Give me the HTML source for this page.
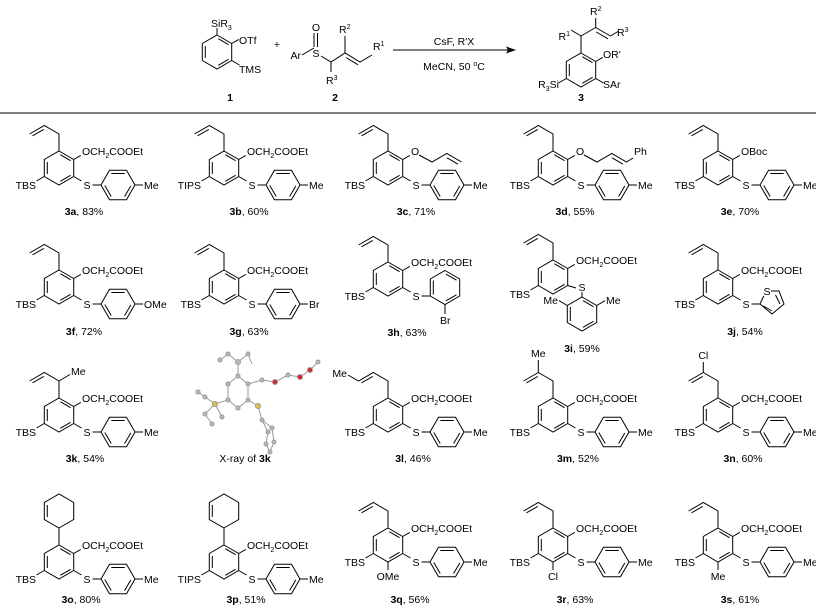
<!DOCTYPE html>
<html><head><meta charset="utf-8"><style>
html,body{margin:0;padding:0;background:#fff;}
svg{display:block;}
text{font-family:"Liberation Sans",Arial,sans-serif;font-size:10.5px;fill:#000;}
</style></head><body>
<svg width="816" height="609" viewBox="0 0 816 609" xmlns="http://www.w3.org/2000/svg">
<defs>
<g id="core" stroke="#000" stroke-width="1" fill="none">
<polygon points="0,-17 14.7,-8.5 14.7,8.5 0,17 -14.7,8.5 -14.7,-8.5"/>
<line x1="-11.7" y1="-6" x2="-11.7" y2="6"/>
<line x1="1.3" y1="-13.3" x2="11.6" y2="-7.3"/>
<line x1="11.6" y1="7.3" x2="1.3" y2="13.3"/>
<line x1="14.7" y1="-8.5" x2="21.8" y2="-12.6"/>
<line x1="14.7" y1="8.5" x2="22.5" y2="13"/>
<line x1="-14.7" y1="8.5" x2="-22.5" y2="13"/>
</g>
<g id="ring0" stroke="#000" stroke-width="1" fill="none">
<polygon points="0,-17 14.7,-8.5 14.7,8.5 0,17 -14.7,8.5 -14.7,-8.5"/>
<line x1="-11.7" y1="-6" x2="-11.7" y2="6"/>
<line x1="1.3" y1="-13.3" x2="11.6" y2="-7.3"/>
<line x1="11.6" y1="7.3" x2="1.3" y2="13.3"/>
</g>
<g id="allyl" stroke="#000" stroke-width="1" fill="none">
<polyline points="0,-17 0,-34 -14.7,-42.5 -29.4,-34"/>
<line x1="-15.2" y1="-38.6" x2="-26.5" y2="-32.2"/>
</g>
<g id="tol" stroke="#000" stroke-width="1" fill="none">
<line x1="33.5" y1="17" x2="42" y2="17"/>
<polygon points="42,17 50.5,2.3 67.5,2.3 76,17 67.5,31.7 50.5,31.7"/>
<line x1="52.3" y1="5.5" x2="65.7" y2="5.5"/>
<line x1="71.8" y1="18" x2="65.6" y2="28.5"/>
<line x1="45.8" y1="17.5" x2="52.2" y2="28.5"/>
<line x1="76" y1="17" x2="84" y2="17"/>
</g>
</defs>

<!-- Top scheme -->
<g stroke="#000" stroke-width="1" fill="none">
<g transform="translate(217,52)"><use href="#ring0"/>
<line x1="0" y1="-17" x2="0" y2="-24"/>
<line x1="14.7" y1="-8.5" x2="21.8" y2="-12.6"/>
<line x1="14.7" y1="8.5" x2="22.5" y2="13"/></g>
<polyline points="302,55 314,48"/>
<line x1="314" y1="33" x2="314" y2="47"/><line x1="317.5" y1="33" x2="317.5" y2="47"/>
<polyline points="321,56 331,62 345,53 360,62 372,55"/>
<line x1="331" y1="62" x2="331" y2="72"/>
<line x1="345" y1="53" x2="345" y2="36"/>
<line x1="346" y1="57.5" x2="358" y2="64.8" />
<line x1="393" y1="50" x2="511" y2="50"/>
<g transform="translate(581,70)"><use href="#ring0"/>
<line x1="0" y1="-17" x2="0" y2="-34"/>
<line x1="0" y1="-34" x2="-10" y2="-40"/>
<line x1="0" y1="-34" x2="14.7" y2="-42.5"/>
<line x1="14.7" y1="-42.5" x2="14.7" y2="-52"/>
<line x1="14.7" y1="-42.5" x2="29.4" y2="-34"/>
<line x1="15.2" y1="-38" x2="27" y2="-31.2"/>
<line x1="29.4" y1="-34" x2="37" y2="-38.5"/>
<line x1="14.7" y1="-8.5" x2="21.8" y2="-12.6"/>
<line x1="14.7" y1="8.5" x2="22.5" y2="13"/>
<line x1="-14.7" y1="8.5" x2="-22.5" y2="13"/></g>
<line x1="0" y1="113" x2="816" y2="113"/>
</g>
<polygon points="516,50 506,46.5 508,50 506,53.5" fill="#000"/>
<text x="211" y="27">SiR<tspan font-size="7" dy="3">3</tspan></text>
<text x="239" y="44">OTf</text>
<text x="239" y="73">TMS</text>
<text x="277" y="48" text-anchor="middle">+</text>
<text x="301" y="59" text-anchor="end">Ar</text>
<text x="316" y="57" text-anchor="middle">S</text>
<text x="316" y="31" text-anchor="middle">O</text>
<text x="326" y="84">R<tspan font-size="7" dy="-4">3</tspan></text>
<text x="339" y="33">R<tspan font-size="7" dy="-4">2</tspan></text>
<text x="373" y="50">R<tspan font-size="7" dy="-4">1</tspan></text>
<text x="230" y="101" text-anchor="middle" font-weight="bold">1</text>
<text x="335" y="101" text-anchor="middle" font-weight="bold">2</text>
<text x="454" y="45" text-anchor="middle">CsF, R'X</text>
<text x="454" y="70" text-anchor="middle">MeCN, 50 <tspan font-size="7" dy="-4">o</tspan><tspan dy="4">C</tspan></text>
<text x="570" y="40" text-anchor="end">R<tspan font-size="7" dy="-4">1</tspan></text>
<text x="590" y="15">R<tspan font-size="7" dy="-4">2</tspan></text>
<text x="617" y="36">R<tspan font-size="7" dy="-4">3</tspan></text>
<text x="603" y="58">OR'</text>
<text x="603" y="88">SAr</text>
<text x="559" y="88" text-anchor="end">R<tspan font-size="7" dy="3">3</tspan><tspan dy="-3">Si</tspan></text>
<text x="581" y="101" text-anchor="middle" font-weight="bold">3</text>

<!-- Row 1 -->
<g transform="translate(59,168)"><use href="#core"/><use href="#allyl"/><use href="#tol"/>
<text x="23" y="-13">OCH<tspan font-size="7" dy="3">2</tspan><tspan dy="-3">COOEt</tspan></text>
<text x="28" y="21" text-anchor="middle">S</text><text x="-23" y="21" text-anchor="end">TBS</text><text x="85" y="21">Me</text>
<text x="25" y="47" text-anchor="middle"><tspan font-weight="bold">3a</tspan>, 83%</text></g>
<g transform="translate(224,168)"><use href="#core"/><use href="#allyl"/><use href="#tol"/>
<text x="23" y="-13">OCH<tspan font-size="7" dy="3">2</tspan><tspan dy="-3">COOEt</tspan></text>
<text x="28" y="21" text-anchor="middle">S</text><text x="-23" y="21" text-anchor="end">TIPS</text><text x="85" y="21">Me</text>
<text x="25" y="47" text-anchor="middle"><tspan font-weight="bold">3b</tspan>, 60%</text></g>
<g transform="translate(388,168)"><use href="#core"/><use href="#allyl"/><use href="#tol"/>
<g stroke="#000" fill="none"><polyline points="31,-13 44,-6 58.8,-14.5 73.5,-6"/><line x1="59" y1="-10.2" x2="70" y2="-3.8"/></g>
<text x="23" y="-13">O</text>
<text x="28" y="21" text-anchor="middle">S</text><text x="-23" y="21" text-anchor="end">TBS</text><text x="85" y="21">Me</text>
<text x="28" y="47" text-anchor="middle"><tspan font-weight="bold">3c</tspan>, 71%</text></g>
<g transform="translate(553,168)"><use href="#core"/><use href="#allyl"/><use href="#tol"/>
<g stroke="#000" fill="none"><polyline points="31,-13 44,-6 58.8,-14.5 73.5,-6 80,-10"/><line x1="59" y1="-10.2" x2="70" y2="-3.8"/></g>
<text x="23" y="-13">O</text><text x="81" y="-13">Ph</text>
<text x="28" y="21" text-anchor="middle">S</text><text x="-23" y="21" text-anchor="end">TBS</text><text x="85" y="21">Me</text>
<text x="22" y="47" text-anchor="middle"><tspan font-weight="bold">3d</tspan>, 55%</text></g>
<g transform="translate(718,168)"><use href="#core"/><use href="#allyl"/><use href="#tol"/>
<text x="23" y="-13">OBoc</text>
<text x="28" y="21" text-anchor="middle">S</text><text x="-23" y="21" text-anchor="end">TBS</text><text x="85" y="21">Me</text>
<text x="22" y="47" text-anchor="middle"><tspan font-weight="bold">3e</tspan>, 70%</text></g>

<!-- Row 2 -->
<g transform="translate(59,287)"><use href="#core"/><use href="#allyl"/><use href="#tol"/>
<text x="23" y="-13">OCH<tspan font-size="7" dy="3">2</tspan><tspan dy="-3">COOEt</tspan></text>
<text x="28" y="21" text-anchor="middle">S</text><text x="-23" y="21" text-anchor="end">TBS</text><text x="85" y="21">OMe</text>
<text x="25" y="48" text-anchor="middle"><tspan font-weight="bold">3f</tspan>, 72%</text></g>
<g transform="translate(224,287)"><use href="#core"/><use href="#allyl"/><use href="#tol"/>
<text x="23" y="-13">OCH<tspan font-size="7" dy="3">2</tspan><tspan dy="-3">COOEt</tspan></text>
<text x="28" y="21" text-anchor="middle">S</text><text x="-23" y="21" text-anchor="end">TBS</text><text x="85" y="21">Br</text>
<text x="25" y="48" text-anchor="middle"><tspan font-weight="bold">3g</tspan>, 63%</text></g>
<g transform="translate(388,279)"><use href="#core"/><use href="#allyl"/>
<g stroke="#000" fill="none"><line x1="33.5" y1="17" x2="42.3" y2="17"/>
<polygon points="57,-8.5 71.7,0 71.7,17 57,25.5 42.3,17 42.3,0"/>
<line x1="45.3" y1="1.5" x2="45.3" y2="15.5"/><line x1="58" y1="-4.8" x2="68.5" y2="1.2"/><line x1="68.5" y1="15.8" x2="58" y2="21.8"/>
<line x1="57" y1="25.5" x2="57" y2="35"/></g>
<text x="23" y="-13">OCH<tspan font-size="7" dy="3">2</tspan><tspan dy="-3">COOEt</tspan></text>
<text x="28" y="21" text-anchor="middle">S</text><text x="-23" y="21" text-anchor="end">TBS</text><text x="52" y="45">Br</text>
<text x="19" y="57" text-anchor="middle"><tspan font-weight="bold">3h</tspan>, 63%</text></g>
<g transform="translate(553,277)"><use href="#ring0"/><use href="#allyl"/>
<g stroke="#000" fill="none">
<line x1="14.7" y1="-8.5" x2="21.8" y2="-12.6"/>
<line x1="14.7" y1="8.5" x2="23" y2="11"/>
<line x1="-14.7" y1="8.5" x2="-22.5" y2="13"/>
<line x1="29" y1="15" x2="29" y2="20"/>
<polygon points="29,20 43.7,28.5 43.7,45.5 29,54 14.3,45.5 14.3,28.5"/>
<line x1="17.3" y1="30" x2="17.3" y2="44"/><line x1="30" y1="23.7" x2="40.5" y2="29.7"/><line x1="40.5" y1="44.3" x2="30" y2="50.3"/>
<line x1="14.3" y1="28.5" x2="6" y2="23.7"/><line x1="43.7" y1="28.5" x2="52" y2="23.7"/></g>
<text x="23" y="-13">OCH<tspan font-size="7" dy="3">2</tspan><tspan dy="-3">COOEt</tspan></text>
<text x="29" y="14" text-anchor="middle">S</text><text x="-23" y="21" text-anchor="end">TBS</text>
<text x="5" y="27" text-anchor="end">Me</text><text x="53" y="27">Me</text></g>
<text x="582" y="352" text-anchor="middle"><tspan font-weight="bold">3i</tspan>, 59%</text>
<g transform="translate(718,287)"><use href="#core"/><use href="#allyl"/>
<g stroke="#000" fill="none"><line x1="33.5" y1="17" x2="42" y2="17"/>
<polygon points="42,17 48,4 61,4 66,17 54,27"/>
<line x1="57.5" y1="8" x2="62" y2="17"/><line x1="45.5" y1="19" x2="54" y2="24"/></g>
<rect x="45" y="-1" width="8" height="10" fill="#fff"/>
<text x="49" y="8" text-anchor="middle">S</text>
<text x="23" y="-13">OCH<tspan font-size="7" dy="3">2</tspan><tspan dy="-3">COOEt</tspan></text>
<text x="28" y="21" text-anchor="middle">S</text><text x="-23" y="21" text-anchor="end">TBS</text>
<text x="27" y="48" text-anchor="middle"><tspan font-weight="bold">3j</tspan>, 54%</text></g>

<!-- Row 3 -->
<g transform="translate(59,415)"><use href="#core"/><use href="#tol"/>
<g stroke="#000" fill="none"><polyline points="0,-17 0,-34 -14.7,-42.5 -29.4,-34"/><line x1="-15.2" y1="-38.6" x2="-26.5" y2="-32.2"/><line x1="0" y1="-34" x2="11" y2="-40.5"/></g>
<text x="12" y="-40">Me</text>
<text x="23" y="-13">OCH<tspan font-size="7" dy="3">2</tspan><tspan dy="-3">COOEt</tspan></text>
<text x="28" y="21" text-anchor="middle">S</text><text x="-23" y="21" text-anchor="end">TBS</text><text x="85" y="21">Me</text>
<text x="26" y="47" text-anchor="middle"><tspan font-weight="bold">3k</tspan>, 54%</text></g>
<g transform="translate(0,-8)">
<g stroke="#999" stroke-width="1" fill="#bbb">
<polyline fill="none" points="228,392 238,384 248,392 248,408 238,416 228,408 228,392"/>
<polyline fill="none" points="238,384 238,370 228,362 220,368"/>
<polyline fill="none" points="238,370 248,362 252,372"/>
<polyline fill="none" points="248,392 262,388 275,390 288,383 300,385 310,378 318,370"/>
<polyline fill="none" points="228,408 215,412 205,405"/>
<polyline fill="none" points="215,412 205,422 212,432"/>
<polyline fill="none" points="215,412 222,425"/>
<polyline fill="none" points="205,405 198,400"/>
<polyline fill="none" points="248,408 258,414 262,428 268,440 266,452 270,460"/>
<polyline fill="none" points="262,428 272,436 274,450 270,460"/>
<circle cx="238" cy="384" r="2"/><circle cx="248" cy="392" r="2"/><circle cx="248" cy="408" r="2"/><circle cx="238" cy="416" r="2"/><circle cx="228" cy="408" r="2"/><circle cx="228" cy="392" r="2"/>
<circle cx="238" cy="370" r="2.5"/><circle cx="228" cy="362" r="2"/><circle cx="220" cy="368" r="2"/><circle cx="248" cy="362" r="2"/>
<circle cx="275" cy="390" r="2.5" fill="#d22"/><circle cx="300" cy="385" r="2.5" fill="#d22"/><circle cx="310" cy="378" r="2.5" fill="#d22"/><circle cx="318" cy="370" r="2"/>
<circle cx="262" cy="388" r="2"/><circle cx="288" cy="383" r="2"/>
<circle cx="215" cy="412" r="2.5" fill="#e0c040"/><circle cx="205" cy="405" r="2"/><circle cx="205" cy="422" r="2"/><circle cx="212" cy="432" r="2"/><circle cx="222" cy="425" r="2"/><circle cx="198" cy="400" r="2"/>
<circle cx="258" cy="414" r="2.5" fill="#e0c040"/><circle cx="262" cy="428" r="2"/><circle cx="268" cy="440" r="2"/><circle cx="272" cy="436" r="2"/><circle cx="274" cy="450" r="2"/><circle cx="266" cy="452" r="2"/><circle cx="270" cy="460" r="2"/>
</g></g>
<text x="245" y="462" text-anchor="middle">X-ray of <tspan font-weight="bold">3k</tspan></text>
<g transform="translate(388,415)"><use href="#core"/><use href="#tol"/>
<g stroke="#000" fill="none"><polyline points="0,-17 0,-34 -14.7,-42.5 -29.4,-34 -40,-40"/><line x1="-15.2" y1="-38.6" x2="-26.5" y2="-32.2"/></g>
<text x="-41" y="-38" text-anchor="end">Me</text>
<text x="23" y="-13">OCH<tspan font-size="7" dy="3">2</tspan><tspan dy="-3">COOEt</tspan></text>
<text x="28" y="21" text-anchor="middle">S</text><text x="-23" y="21" text-anchor="end">TBS</text><text x="85" y="21">Me</text>
<text x="25" y="47" text-anchor="middle"><tspan font-weight="bold">3l</tspan>, 46%</text></g>
<g transform="translate(553,415)"><use href="#core"/><use href="#tol"/>
<g stroke="#000" fill="none"><polyline points="0,-17 0,-34 -14.7,-42.5 -14.7,-55"/><line x1="-14.7" y1="-42.5" x2="-29.4" y2="-34"/><line x1="-15.2" y1="-38.6" x2="-26.5" y2="-32.2"/></g>
<text x="-14.7" y="-58" text-anchor="middle">Me</text>
<text x="23" y="-13">OCH<tspan font-size="7" dy="3">2</tspan><tspan dy="-3">COOEt</tspan></text>
<text x="28" y="21" text-anchor="middle">S</text><text x="-23" y="21" text-anchor="end">TBS</text><text x="85" y="21">Me</text>
<text x="25" y="47" text-anchor="middle"><tspan font-weight="bold">3m</tspan>, 52%</text></g>
<g transform="translate(718,415)"><use href="#core"/><use href="#tol"/>
<g stroke="#000" fill="none"><polyline points="0,-17 0,-34 -14.7,-42.5 -14.7,-53"/><line x1="-14.7" y1="-42.5" x2="-29.4" y2="-34"/><line x1="-15.2" y1="-38.6" x2="-26.5" y2="-32.2"/></g>
<text x="-14.7" y="-56" text-anchor="middle">Cl</text>
<text x="23" y="-13">OCH<tspan font-size="7" dy="3">2</tspan><tspan dy="-3">COOEt</tspan></text>
<text x="28" y="21" text-anchor="middle">S</text><text x="-23" y="21" text-anchor="end">TBS</text><text x="85" y="21">Me</text>
<text x="25" y="47" text-anchor="middle"><tspan font-weight="bold">3n</tspan>, 60%</text></g>

<!-- Row 4 -->
<g transform="translate(59,562)"><use href="#core"/><use href="#tol"/>
<g stroke="#000" fill="none"><line x1="0" y1="-17" x2="0" y2="-34"/>
<polygon points="0,-34 14.7,-42.5 14.7,-59.5 0,-68 -14.7,-59.5 -14.7,-42.5"/><line x1="-11.7" y1="-45" x2="-11.7" y2="-57"/></g>
<text x="23" y="-13">OCH<tspan font-size="7" dy="3">2</tspan><tspan dy="-3">COOEt</tspan></text>
<text x="28" y="21" text-anchor="middle">S</text><text x="-23" y="21" text-anchor="end">TBS</text><text x="85" y="21">Me</text>
<text x="22" y="41" text-anchor="middle"><tspan font-weight="bold">3o</tspan>, 80%</text></g>
<g transform="translate(224,562)"><use href="#core"/><use href="#tol"/>
<g stroke="#000" fill="none"><line x1="0" y1="-17" x2="0" y2="-34"/>
<polygon points="0,-34 14.7,-42.5 14.7,-59.5 0,-68 -14.7,-59.5 -14.7,-42.5"/><line x1="-11.7" y1="-45" x2="-11.7" y2="-57"/></g>
<text x="23" y="-13">OCH<tspan font-size="7" dy="3">2</tspan><tspan dy="-3">COOEt</tspan></text>
<text x="28" y="21" text-anchor="middle">S</text><text x="-23" y="21" text-anchor="end">TIPS</text><text x="85" y="21">Me</text>
<text x="22" y="41" text-anchor="middle"><tspan font-weight="bold">3p</tspan>, 51%</text></g>
<g transform="translate(388,545)"><use href="#core"/><use href="#allyl"/><use href="#tol"/>
<line x1="0" y1="17" x2="0" y2="25" stroke="#000"/>
<text x="0" y="35" text-anchor="middle">OMe</text>
<text x="23" y="-13">OCH<tspan font-size="7" dy="3">2</tspan><tspan dy="-3">COOEt</tspan></text>
<text x="28" y="21" text-anchor="middle">S</text><text x="-23" y="21" text-anchor="end">TBS</text><text x="85" y="21">Me</text>
<text x="22" y="58" text-anchor="middle"><tspan font-weight="bold">3q</tspan>, 56%</text></g>
<g transform="translate(553,545)"><use href="#core"/><use href="#allyl"/><use href="#tol"/>
<line x1="0" y1="17" x2="0" y2="25" stroke="#000"/>
<text x="0" y="35" text-anchor="middle">Cl</text>
<text x="23" y="-13">OCH<tspan font-size="7" dy="3">2</tspan><tspan dy="-3">COOEt</tspan></text>
<text x="28" y="21" text-anchor="middle">S</text><text x="-23" y="21" text-anchor="end">TBS</text><text x="85" y="21">Me</text>
<text x="22" y="58" text-anchor="middle"><tspan font-weight="bold">3r</tspan>, 63%</text></g>
<g transform="translate(718,545)"><use href="#core"/><use href="#allyl"/><use href="#tol"/>
<line x1="0" y1="17" x2="0" y2="25" stroke="#000"/>
<text x="0" y="35" text-anchor="middle">Me</text>
<text x="23" y="-13">OCH<tspan font-size="7" dy="3">2</tspan><tspan dy="-3">COOEt</tspan></text>
<text x="28" y="21" text-anchor="middle">S</text><text x="-23" y="21" text-anchor="end">TBS</text><text x="85" y="21">Me</text>
<text x="22" y="58" text-anchor="middle"><tspan font-weight="bold">3s</tspan>, 61%</text></g>
</svg>
</body></html>
